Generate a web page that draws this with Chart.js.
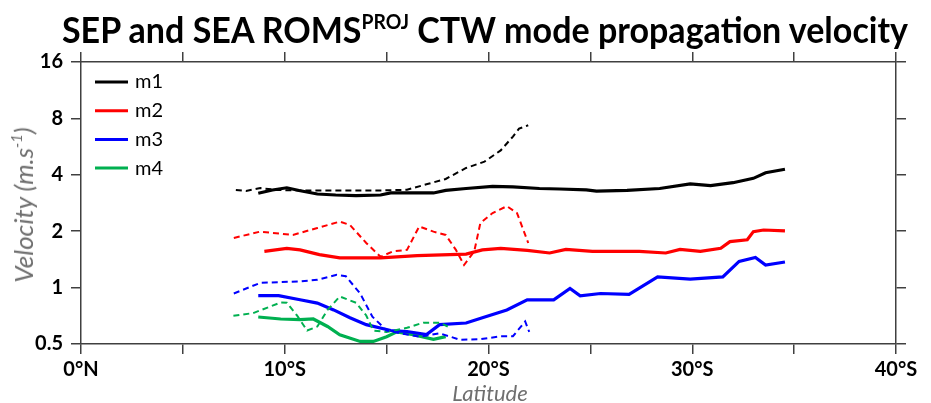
<!DOCTYPE html>
<html>
<head>
<meta charset="utf-8">
<script src="https://cdn.jsdelivr.net/npm/chart.js@4.4.0/dist/chart.umd.min.js"></script>
<style>
  body { margin: 0; background: #fff; }
  #wrap { position: relative; width: 931px; height: 403px; font-family: Lato, "Open Sans", sans-serif; }
  #title { position: absolute; left: 485px; top: 28px; transform: translate(-50%, -50%) scaleX(0.92);
           font-weight: bold; font-size: 37px; color: #000; white-space: nowrap; }
  #title sup { font-size: 21px; vertical-align: 14px; line-height: 0; }
  #ytitle { position: absolute; left: 23px; top: 205px; width: 0; height: 0; }
  #ytitle span { position: absolute; left: 0; top: 0; transform: translate(-50%, -50%) rotate(-90deg);
            font-style: italic; font-size: 26px; line-height: 1; color: #6f6f6f; white-space: nowrap; }
  #ytitle sup { font-size: 15px; vertical-align: 11px; line-height: 0; }
  #xtitle { position: absolute; left: 490px; top: 392px; transform: translate(-50%, -50%);
            font-style: italic; font-size: 22px; color: #6f6f6f; white-space: nowrap; }
</style>
</head>
<body>
<div id="wrap">
  <canvas id="c" width="931" height="403"></canvas>
  <div id="title">SEP and SEA ROMS<sup>PROJ</sup> CTW mode propagation velocity</div>
  <div id="ytitle"><span>Velocity (m.s<sup>-1</sup>)</span></div>
  <div id="xtitle">Latitude</div>
</div>
<script>
// latitude in degrees south, velocity in m/s
const m1Lat = [8.7, 9.4, 10.1, 10.7, 11.6, 12.5, 13.5, 14.7, 15.2, 16.3, 17.3, 17.9, 18.9, 20.2, 21.2, 22.5, 23.5, 24.8, 25.3, 26.8, 28.4, 29.9, 30.9, 32.0, 33.0, 33.6, 34.55];
const m1Vel = [3.19, 3.32, 3.41, 3.30, 3.16, 3.12, 3.10, 3.12, 3.20, 3.20, 3.20, 3.30, 3.38, 3.47, 3.45, 3.38, 3.36, 3.32, 3.27, 3.30, 3.38, 3.58, 3.50, 3.63, 3.83, 4.10, 4.28];
const m1dLat = [7.6, 8.1, 8.8, 9.6, 10.7, 12.4, 14.8, 16.0, 17.0, 17.9, 18.9, 19.8, 20.6, 21.2, 21.5, 21.95];
const m1dVel = [3.32, 3.28, 3.40, 3.32, 3.30, 3.30, 3.30, 3.33, 3.57, 3.80, 4.35, 4.70, 5.40, 6.40, 7.05, 7.35];

const m2Lat = [9.0, 10.1, 10.75, 11.7, 12.7, 14.7, 16.5, 18.9, 19.7, 20.6, 21.9, 23.0, 23.8, 25.1, 27.4, 28.7, 29.4, 30.4, 31.4, 31.85, 32.7, 33.0, 33.5, 34.55];
const m2Vel = [1.56, 1.62, 1.59, 1.50, 1.44, 1.44, 1.48, 1.51, 1.59, 1.62, 1.58, 1.53, 1.60, 1.56, 1.56, 1.53, 1.60, 1.56, 1.62, 1.76, 1.80, 1.99, 2.03, 2.01];
const m2dLat = [7.5, 8.8, 10.4, 11.6, 12.7, 13.2, 14.0, 14.7, 15.3, 16.0, 16.6, 17.3, 17.9, 18.4, 18.8, 19.3, 19.6, 20.2, 20.9, 21.4, 21.95];
const m2dVel = [1.84, 1.99, 1.91, 2.08, 2.25, 2.16, 1.73, 1.46, 1.56, 1.59, 2.12, 1.99, 1.91, 1.59, 1.32, 1.56, 2.21, 2.50, 2.72, 2.50, 1.73];

const m3Lat = [8.7, 9.7, 10.75, 11.6, 12.4, 13.2, 14.0, 15.2, 16.0, 16.96, 17.6, 18.9, 19.7, 20.9, 21.9, 23.2, 24.0, 24.5, 25.5, 26.9, 28.3, 29.9, 31.5, 32.3, 33.1, 33.6, 34.55];
const m3Vel = [0.905, 0.905, 0.861, 0.827, 0.76, 0.69, 0.634, 0.59, 0.583, 0.561, 0.634, 0.647, 0.69, 0.76, 0.86, 0.86, 0.99, 0.905, 0.93, 0.92, 1.14, 1.11, 1.14, 1.38, 1.45, 1.32, 1.37];
const m3dLat = [7.5, 8.8, 10.75, 11.6, 12.55, 13.0, 13.7, 14.3, 15.0, 15.66, 16.6, 17.6, 18.6, 19.6, 20.6, 21.2, 21.8, 22.0];
const m3dVel = [0.93, 1.06, 1.08, 1.10, 1.17, 1.15, 0.93, 0.70, 0.59, 0.57, 0.547, 0.57, 0.527, 0.53, 0.55, 0.55, 0.66, 0.58];

const m4Lat = [8.7, 9.8, 10.75, 11.4, 12.1, 12.7, 13.7, 14.35, 15.0, 15.5, 16.3, 17.3, 17.9];
const m4Vel = [0.697, 0.68, 0.674, 0.68, 0.62, 0.56, 0.516, 0.516, 0.547, 0.58, 0.56, 0.53, 0.547];
const m4dLat = [7.48, 8.45, 9.8, 10.1, 10.6, 11.1, 11.6, 12.1, 12.7, 13.5, 14.0, 14.35, 15.0, 16.0, 16.8, 17.6, 18.0];
const m4dVel = [0.707, 0.731, 0.833, 0.83, 0.71, 0.59, 0.62, 0.76, 0.896, 0.83, 0.71, 0.59, 0.58, 0.61, 0.65, 0.65, 0.62];

const modeNames = ['m1', 'm2', 'm3', 'm4'];
const modeColours = ['#000000', '#ff0000', '#0000ff', '#00b050'];
const yTicks = [0.5, 1, 2, 4, 8, 16];

function pts(lat, vel) {
  return lat.map((x, i) => ({ x: x, y: vel[i] }));
}

const solid = [pts(m1Lat, m1Vel), pts(m2Lat, m2Vel), pts(m3Lat, m3Vel), pts(m4Lat, m4Vel)];
const dashed = [pts(m1dLat, m1dVel), pts(m2dLat, m2dVel), pts(m3dLat, m3dVel), pts(m4dLat, m4dVel)];

const datasets = [];
dashed.forEach((d, i) => {
  datasets.push({ label: modeNames[i] + ' dashed', data: d, borderColor: modeColours[i], borderWidth: 2, borderDash: [6, 4], pointRadius: 0, showLine: true });
});
solid.forEach((d, i) => {
  datasets.push({ label: modeNames[i], data: d, borderColor: modeColours[i], borderWidth: 3.2, pointRadius: 0, showLine: true });
});

const axisCol = '#404040';
const tickFont = { family: 'Lato', size: 20, weight: 'bold' };

// legend sits inside the plot, top-left, solid modes only
const legendPlugin = {
  id: 'insideLegend',
  afterDraw(chart) {
    const ctx = chart.ctx;
    ctx.save();
    ctx.font = '20px Lato';
    ctx.textBaseline = 'middle';
    modeNames.forEach((name, i) => {
      const y = 82 + i * 28.7;
      ctx.strokeStyle = modeColours[i];
      ctx.lineWidth = 3;
      ctx.beginPath();
      ctx.moveTo(95, y);
      ctx.lineTo(128, y);
      ctx.stroke();
      ctx.fillStyle = '#000';
      ctx.fillText(name, 135, y);
    });
    ctx.restore();
  }
};

function setYTicks(scale) {
  scale.ticks = yTicks.map(v => ({ value: v }));
}

new Chart(document.getElementById('c'), {
  type: 'scatter',
  data: { datasets: datasets },
  plugins: [legendPlugin],
  options: {
    responsive: false,
    animation: false,
    layout: { padding: 0 },
    plugins: { legend: { display: false }, tooltip: { enabled: false } },
    scales: {
      x: {
        type: 'linear', position: 'bottom', min: 0, max: 40,
        afterFit: s => { s.height = 59; },
        ticks: {
          stepSize: 5, autoSkip: false, maxRotation: 0, padding: 4, color: '#000', font: tickFont,
          callback: v => v === 0 ? '0°N' : (v % 10 === 0 ? v + '°S' : '')
        },
        grid: { drawOnChartArea: false, tickLength: 10, color: axisCol, lineWidth: 1.5 },
        border: { color: axisCol, width: 1.5 }
      },
      xTop: {
        type: 'linear', position: 'top', min: 0, max: 40,
        afterFit: s => { s.height = 62; },
        ticks: { stepSize: 5, display: false },
        grid: { drawOnChartArea: false, tickLength: 10, color: axisCol, lineWidth: 1.5 },
        border: { color: axisCol, width: 1.5 }
      },
      y: {
        type: 'logarithmic', position: 'left', min: 0.5, max: 16,
        afterFit: s => { s.width = 81; },
        afterBuildTicks: setYTicks,
        ticks: { padding: 8, color: '#000', font: tickFont, callback: v => String(v) },
        grid: { drawOnChartArea: false, tickLength: 10, color: axisCol, lineWidth: 1.5 },
        border: { color: axisCol, width: 1.5 }
      },
      yRight: {
        type: 'logarithmic', position: 'right', min: 0.5, max: 16,
        afterFit: s => { s.width = 35; },
        afterBuildTicks: setYTicks,
        ticks: { display: false },
        grid: { drawOnChartArea: false, tickLength: 10, color: axisCol, lineWidth: 1.5 },
        border: { color: axisCol, width: 1.5 }
      }
    }
  }
});
</script>
</body>
</html>
